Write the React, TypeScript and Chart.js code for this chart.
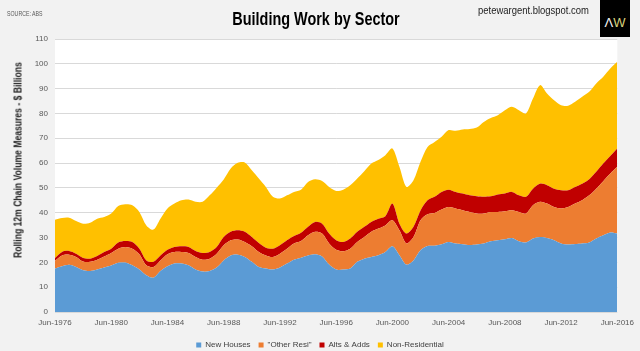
import React, { useEffect, useRef } from "react";
import { Chart, registerables } from "chart.js";

Chart.register(...registerables);

// Half-yearly categories Jun-1976 ... Jun-2016
const years: number[] = [];
for (let y = 1976; y <= 2016; y++) years.push(y);
const categories: string[] = [];
years.forEach((y) => {
  categories.push(`Jun-${y}`);
  if (y < 2016) categories.push(`Dec-${y}`);
});

const tickLabels = ["Jun-1976", "Jun-1980", "Jun-1984", "Jun-1988", "Jun-1992", "Jun-1996", "Jun-2000", "Jun-2004", "Jun-2008", "Jun-2012", "Jun-2016"];

const newHouses = [
  17.5, 18.4, 19.0, 18.1, 16.8, 16.5, 17.1, 17.9, 18.7, 19.8,
  19.9, 18.8, 17.1, 14.8, 13.8, 16.5, 18.4, 19.5, 19.5, 18.8,
  17.1, 16.3, 16.5, 17.9, 20.8, 22.8, 23.1, 22.2, 20.2, 18.1,
  17.5, 17.1, 17.9, 19.5, 21.1, 21.9, 22.8, 23.3, 22.4, 19.1,
  17.1, 17.1, 17.5, 20.2, 21.5, 22.2, 22.9, 24.2, 26.5, 22.9,
  19.1, 20.8, 24.9, 26.6, 26.7, 27.3, 28.2, 27.6, 27.3, 27.0,
  27.2, 27.6, 28.5, 28.9, 29.3, 29.8, 28.5, 28.0, 29.6, 30.2,
  29.8, 28.9, 27.6, 27.2, 27.4, 27.6, 28.0, 29.6, 30.9, 32.0,
  31.6,
];
const otherResi = [
  3.1, 4.4, 4.1, 4.1, 3.5, 3.7, 4.0, 4.5, 5.1, 5.7,
  6.3, 6.7, 6.2, 4.0, 4.3, 4.3, 4.9, 4.7, 4.7, 5.0,
  5.1, 4.8, 5.0, 5.6, 6.1, 6.1, 6.1, 6.0, 6.3, 6.1,
  5.3, 5.1, 5.6, 6.0, 6.5, 6.7, 8.1, 9.0, 9.2, 8.5,
  8.0, 7.4, 8.0, 8.0, 8.7, 10.1, 10.7, 10.7, 10.5, 10.0,
  8.5, 9.4, 12.1, 12.8, 13.2, 14.0, 14.1, 14.1, 13.7, 13.3,
  12.5, 12.1, 11.8, 11.4, 11.3, 11.2, 11.8, 11.7, 13.4, 14.2,
  13.9, 13.4, 14.1, 15.1, 16.3, 17.4, 19.0, 20.1, 21.8, 23.8,
  26.9,
];
const altsAdds = [
  1.2, 1.4, 1.5, 1.3, 1.5, 1.3, 1.5, 1.8, 1.7, 2.5,
  2.4, 2.7, 2.2, 2.0, 2.1, 2.0, 1.8, 2.0, 2.3, 2.4,
  2.4, 2.7, 2.7, 2.7, 3.3, 3.4, 3.7, 4.1, 3.7, 3.6,
  3.1, 3.3, 3.4, 3.4, 3.0, 3.3, 3.4, 4.0, 4.0, 4.0,
  3.8, 3.7, 4.1, 4.1, 4.1, 4.0, 4.0, 3.7, 6.7, 2.7,
  4.0, 4.1, 3.9, 5.6, 6.5, 7.1, 7.0, 6.7, 6.7, 6.7,
  6.9, 6.7, 6.3, 7.0, 7.1, 7.4, 6.7, 6.7, 6.7, 7.3,
  7.4, 7.4, 7.4, 6.8, 6.7, 6.7, 6.5, 6.8, 7.1, 7.1,
  7.4,
];
const nonResidential = [
  15.4, 13.7, 13.4, 13.2, 13.8, 14.5, 15.0, 14.1, 14.2, 14.7,
  14.8, 14.8, 14.8, 14.1, 13.0, 14.8, 16.6, 17.5, 18.5, 19.1,
  19.8, 20.6, 22.8, 23.9, 23.2, 25.5, 27.2, 27.9, 26.9, 26.0,
  24.5, 20.9, 18.8, 18.1, 17.8, 17.4, 18.1, 17.2, 17.2, 18.8,
  19.9, 21.1, 21.5, 21.5, 22.4, 23.5, 23.6, 24.6, 22.2, 22.9,
  18.8, 18.8, 19.6, 21.5, 22.1, 22.2, 24.0, 24.6, 25.8, 26.7,
  27.7, 30.2, 31.6, 32.0, 33.6, 34.3, 34.3, 33.6, 36.3, 39.7,
  36.9, 35.6, 34.2, 34.0, 34.3, 35.0, 35.2, 35.6, 35.0, 35.2,
  34.9,
];

const seriesNames = ["New Houses", "\"Other Resi\"", "Alts & Adds", "Non-Residential"];
const seriesColors = ["#5b9bd5", "#ed7d31", "#c00000", "#ffc000"];

const FONT = "'Liberation Sans', Arial, sans-serif";

const plotBg = {
  id: "plotBg",
  beforeDraw(chart: any) {
    const { ctx, chartArea } = chart;
    if (!chartArea) return;
    ctx.save();
    ctx.fillStyle = "#ffffff";
    ctx.fillRect(chartArea.left, chartArea.top, chartArea.right - chartArea.left, chartArea.bottom - chartArea.top);
    ctx.restore();
  },
};

export default function App() {
  const ref = useRef<HTMLCanvasElement | null>(null);
  useEffect(() => {
    if (!ref.current) return;
    const values = [newHouses, otherResi, altsAdds, nonResidential];
    const chart = new Chart(ref.current, {
      type: "line",
      data: {
        labels: categories,
        datasets: values.map((v, i) => ({
          label: seriesNames[i],
          data: v,
          backgroundColor: seriesColors[i],
          borderColor: seriesColors[i],
          borderWidth: 0,
          pointRadius: 0,
          fill: i === 0 ? "origin" : "-1",
          tension: 0.3,
        })),
      },
      options: {
        animation: false,
        responsive: false,
        devicePixelRatio: 1,
        layout: { padding: { top: 39, left: 0, right: 0, bottom: -8 } },
        plugins: {
          title: { display: false },
          tooltip: { enabled: false },
          legend: {
            position: "bottom",
            labels: {
              boxWidth: 5,
              boxHeight: 5,
              padding: 8,
              color: "#404040",
              font: { family: FONT, size: 8 },
            },
          },
        },
        scales: {
          x: {
            grid: { display: false, drawTicks: false },
            border: { display: false },
            ticks: {
              autoSkip: false,
              maxRotation: 0,
              color: "#595959",
              font: { family: FONT, size: 8 },
              padding: 6,
              callback: (_v: any, i: number) => (tickLabels.includes(categories[i]) ? categories[i] : null),
            },
            afterFit: (s: any) => {
              s.height = 21;
            },
          },
          y: {
            stacked: true,
            min: 0,
            max: 110,
            grid: { color: "#d9d9d9", drawTicks: false },
            border: { display: false },
            ticks: {
              stepSize: 10,
              color: "#595959",
              font: { family: FONT, size: 8 },
              padding: 7,
            },
            afterFit: (s: any) => {
              s.width = 55;
            },
          },
          yRight: {
            type: "linear",
            position: "right",
            min: 0,
            max: 110,
            grid: { display: false, drawTicks: false },
            border: { display: false },
            ticks: { display: false },
            afterFit: (s: any) => {
              s.width = 18;
            },
          },
        },
      },
      plugins: [plotBg],
    } as any);
    return () => chart.destroy();
  }, []);

  return (
    <div style={{ position: "fixed", left: 0, top: 0, width: 640, height: 351, background: "#f2f2f2", overflow: "hidden", fontFamily: FONT }}>
      <canvas ref={ref} width={640} height={351} style={{ position: "absolute", left: 0, top: 0 }} />
      <div style={{ position: "absolute", left: 7, top: 10, fontSize: 7, color: "#595959", transform: "scaleX(0.75)", transformOrigin: "left top", whiteSpace: "nowrap" }}>SOURCE: ABS</div>
      <div style={{ position: "absolute", left: 316, top: 8, fontSize: 19, fontWeight: "bold", color: "#000", whiteSpace: "nowrap", transform: "translateX(-50%) scaleX(0.76)", transformOrigin: "center top" }}>
        Building Work by Sector
      </div>
      <div style={{ position: "absolute", left: 478, top: 4, fontSize: 11, color: "#222", whiteSpace: "nowrap", transform: "scaleX(0.86)", transformOrigin: "left top" }}>petewargent.blogspot.com</div>
      <div style={{ position: "absolute", left: 600, top: 0, width: 30, height: 37, background: "#000", fontSize: 13, textAlign: "center", lineHeight: "37px", paddingTop: 4, boxSizing: "border-box" }}>
        <span style={{ color: "#f2f2f2" }}>Λ</span>
        <span style={{ color: "#d9d27a" }}>W</span>
      </div>
      <div
        style={{
          position: "absolute",
          left: 18,
          top: 160,
          transform: "translate(-50%, -50%) rotate(-90deg) scaleX(0.86)",
          whiteSpace: "nowrap",
          fontSize: 10,
          fontWeight: "bold",
          color: "#222",
        }}
      >
        Rolling 12m Chain Volume Measures - $ Billions
      </div>
    </div>
  );
}
